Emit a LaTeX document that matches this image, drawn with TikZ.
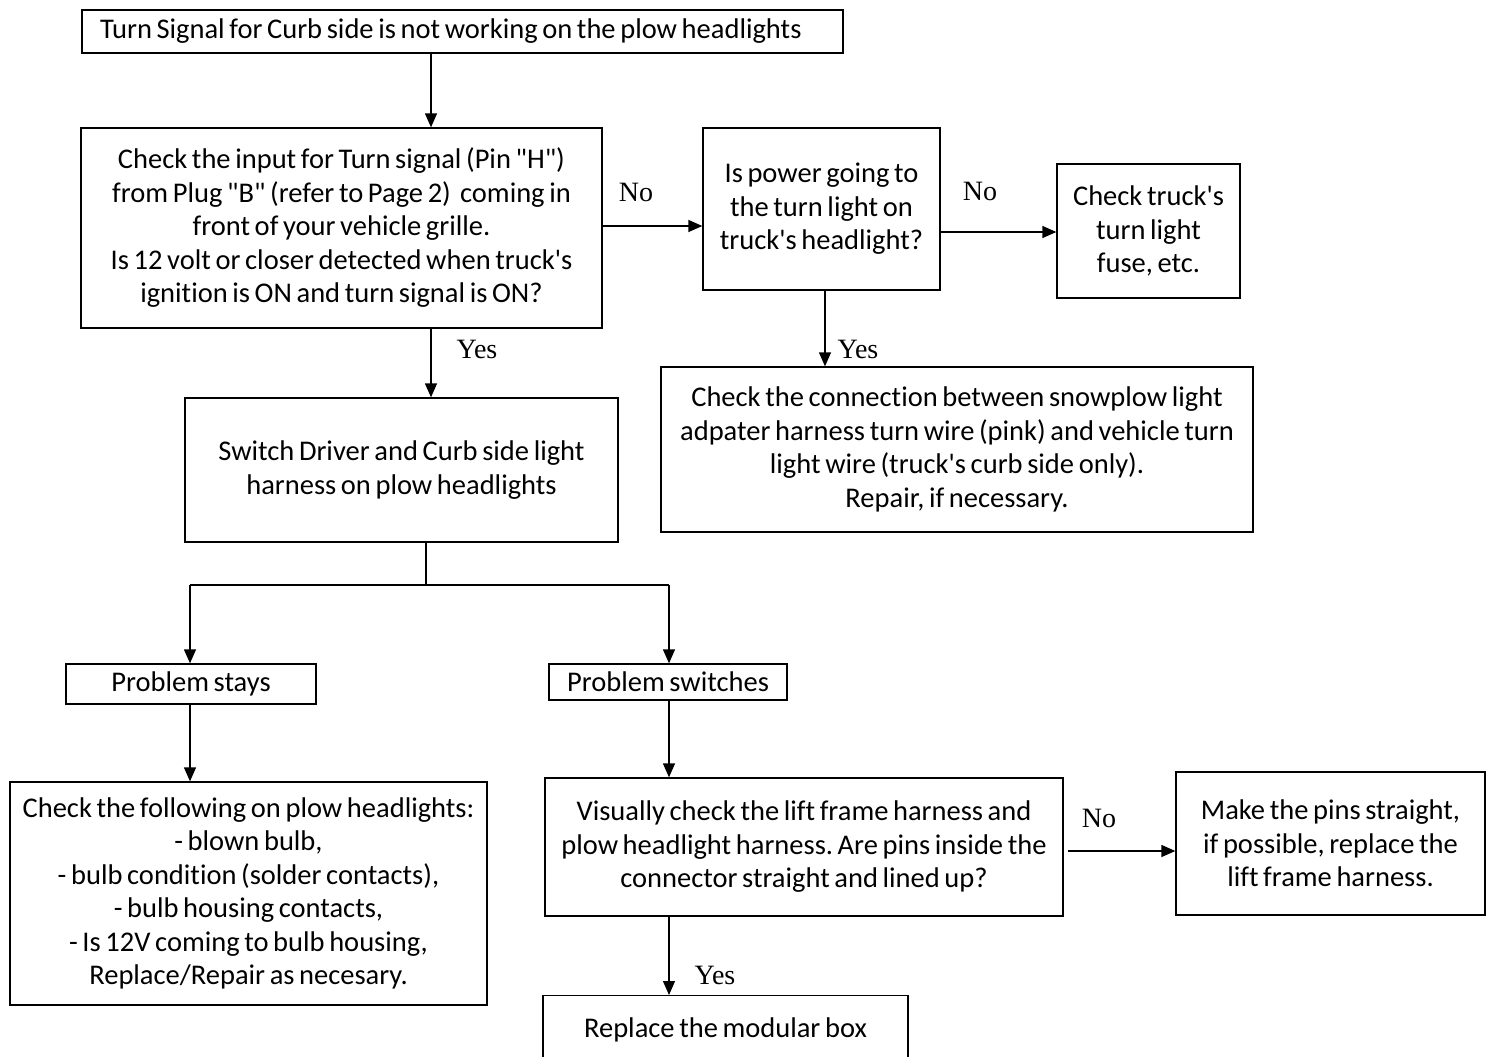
\documentclass[tikz,border=0pt]{standalone}
\usepackage{fontspec}
\usetikzlibrary{arrows.meta}
\newfontfamily\boxfont{Carlito}[Ligatures={TeXOff,NoCommon},WordSpace=0.72]
\newfontfamily\lblfont{Liberation Serif}
\frenchspacing
\tikzset{
  box/.style={draw,line width=1.3pt,align=center,inner sep=0pt,
    font=\boxfont\fontsize{28.5}{33.5}\selectfont},
  arr/.style={line width=1.3pt,-{Triangle[length=14pt,width=12pt]}},
  ln/.style={line width=1.3pt},
  lbl/.style={font=\lblfont\fontsize{28}{30}\selectfont,inner sep=0pt}
}
\begin{document}
\begin{tikzpicture}[x=1pt,y=-1pt]
\useasboundingbox (0,0) rectangle (1492,1057);
\clip (0,0) rectangle (1492,1057);
\fill[white] (0,0) rectangle (1492,1057);
\node[box,minimum width=761,minimum height=43] (top) at (462.5,31.5)
  {\makebox[725pt][l]{Turn Signal for Curb side is not working on the plow headlights}};
\node[box,minimum width=521,minimum height=200] (b2) at (341.5,228)
  {Check the input for Turn signal (Pin "H")\\ from Plug "B" (refer to Page 2)~ coming in\\ front of your vehicle grille.\\ Is 12 volt or closer detected when truck's\\ ignition is ON and turn signal is ON?};
\node[box,minimum width=237,minimum height=162] (b3) at (821.5,209)
  {Is power going to\\ the turn light on\\ truck's headlight?};
\node[box,minimum width=183,minimum height=134] (b4) at (1148.5,231)
  {Check truck's\\ turn light\\ fuse, etc.};
\node[box,minimum width=592,minimum height=165] (b5) at (957,449.5)
  {Check the connection between snowplow light\\ adpater harness turn wire (pink) and vehicle turn\\ light wire (truck's curb side only).\\ Repair, if necessary.};
\node[box,minimum width=433,minimum height=144] (b6) at (401.5,470)
  {Switch Driver and Curb side light\\ harness on plow headlights};
\node[box,minimum width=250,minimum height=40] (ps) at (191,684) {Problem stays};
\node[box,minimum width=238,minimum height=36] (sw) at (668,682) {Problem switches};
\node[box,minimum width=477,minimum height=223] (b7) at (248.5,893.5)
  {Check the following on plow headlights:\\ - blown bulb,\\ - bulb condition (solder contacts),\\ - bulb housing contacts,\\ - Is 12V coming to bulb housing,\\ Replace/Repair as necesary.};
\node[box,minimum width=518,minimum height=138] (b8) at (804,847)
  {Visually check the lift frame harness and\\ plow headlight harness. Are pins inside the\\ connector straight and lined up?};
\node[box,minimum width=309,minimum height=143] (b9) at (1330.5,843.5)
  {Make the pins straight,\\ if possible, replace the\\ lift frame harness.};
\node[box,minimum width=365,text height=42pt,text depth=80pt,inner ysep=0pt,anchor=north] (b10) at (725.5,995)
  {Replace the modular box};
% connectors
\draw[arr] (431,0 |- top.south) -- (431,0 |- b2.north);
\draw[arr] (b2.east |- 0,226) -- (b3.west |- 0,226);
\node[lbl] (no1) at (636,192) {No};
\draw[arr] (b3.east |- 0,232) -- (b4.west |- 0,232);
\node[lbl] (no2) at (980,191) {No};
\draw[arr] (825,0 |- b3.south) -- (825,0 |- b5.north);
\node[lbl] (yes1) at (858,349) {Yes};
\draw[arr] (431,0 |- b2.south) -- (431,0 |- b6.north);
\node[lbl] (yes2) at (477,349) {Yes};
\coordinate (split) at (426,585);
\draw[ln] (426,0 |- b6.south) -- (split);
\draw[ln] (190,585) -- (669,585);
\draw[arr] (190,585) -- (190,0 |- ps.north);
\draw[arr] (669,585) -- (669,0 |- sw.north);
\draw[arr] (190,0 |- ps.south) -- (190,0 |- b7.north);
\draw[arr] (669,0 |- sw.south) -- (669,0 |- b8.north);
\draw[arr] ([xshift=4pt]b8.east |- 0,851) -- (b9.west |- 0,851);
\node[lbl] (no3) at (1099,818) {No};
\draw[arr] (669,0 |- b8.south) -- (669,0 |- b10.north);
\node[lbl] (yes3) at (715,975) {Yes};
\end{tikzpicture}
\end{document}
